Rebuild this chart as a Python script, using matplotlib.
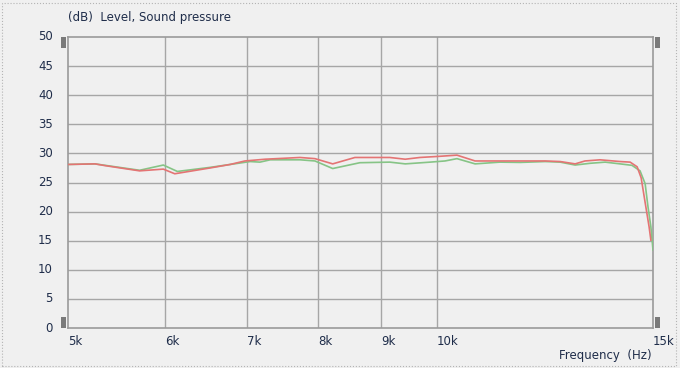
import numpy as np
import matplotlib.pyplot as plt
from matplotlib.patches import Rectangle
from matplotlib.ticker import FixedLocator, NullLocator

# Кривые (частота, Гц / уровень, дБ)
red_f = [5000, 5260, 5360, 5720, 5980, 6110, 6530, 6780, 6970, 7240, 7730, 7950,
         8220, 8570, 9150, 9420, 9680, 10050, 10380, 10740, 11250, 11690, 12250,
         12600, 12960, 13200, 13580, 14100, 14370, 14560, 14670, 14800, 14890, 14940]
red_db = [28.1, 28.2, 27.9, 27.0, 27.3, 26.5, 27.5, 28.1, 28.7, 29.0, 29.3, 29.1,
          28.2, 29.3, 29.3, 29.0, 29.3, 29.5, 29.7, 28.7, 28.7, 28.7, 28.7,
          28.6, 28.2, 28.7, 28.9, 28.6, 28.5, 27.7, 25.8, 20.8, 17.4, 15.1]

green_f = [5000, 5260, 5720, 5980, 6140, 6530, 6780, 7040, 7170, 7310, 7730, 7950,
           8220, 8650, 9150, 9420, 9870, 10150, 10380, 10740, 11250, 11690, 12250,
           12600, 12960, 13330, 13710, 14100, 14420, 14640, 14780, 14860, 14940, 15000]
green_db = [28.1, 28.2, 27.1, 28.0, 26.9, 27.6, 28.1, 28.6, 28.5, 28.9, 28.9, 28.7,
            27.4, 28.4, 28.5, 28.2, 28.5, 28.7, 29.1, 28.2, 28.5, 28.45, 28.6,
            28.5, 28.0, 28.3, 28.5, 28.2, 27.95, 27.0, 24.8, 20.8, 17.4, 13.4]

x_ticks = [5000, 6000, 7000, 8000, 9000, 10000, 15000]
x_labels = ['5k', '6k', '7k', '8k', '9k', '10k', '15k']
y_ticks = list(range(0, 51, 5))

bg = '#f0f0f0'
txt = '#1f2d4a'
grid = '#a6a6a6'

fig = plt.figure(figsize=(6.8, 3.68), dpi=100, facecolor=bg)
ax = fig.add_axes([68/680, 1 - 328/368, 585/680, 291/368])
ax.set_facecolor(bg)

ax.set_xscale('log')
ax.set_xlim(5000, 15000)
ax.set_ylim(0, 50)

ax.xaxis.set_major_locator(FixedLocator(x_ticks[1:-1]))
ax.xaxis.set_minor_locator(NullLocator())
ax.set_xticklabels([])
ax.set_yticks(y_ticks[1:-1])
ax.set_yticklabels([])
ax.tick_params(length=0)
ax.grid(True, color=grid, linewidth=1.0)
for s in ax.spines.values():
    s.set_color('#9a9a9a')
    s.set_linewidth(1.2)

ax.plot(green_f, green_db, color='#86c486', linewidth=1.2, zorder=3)
ax.plot(red_f, red_db, color='#e47474', linewidth=1.2, zorder=4)

# подписи осей
for v, lab in zip(x_ticks, x_labels):
    ax.text(v, -0.025, lab, ha='left', va='top', fontsize=8.5, color=txt,
            transform=ax.get_xaxis_transform(), clip_on=False)
for v in y_ticks:
    ax.text(-0.026, v, str(v), ha='right', va='center', fontsize=8.5, color=txt,
            transform=ax.get_yaxis_transform())

fig.text(68/680, 1 - 17/368, '(dB)  Level, Sound pressure', ha='left', va='center',
         fontsize=8.5, color=txt)
fig.text(652/680, 1 - 355/368, 'Frequency  (Hz)', ha='right', va='center',
         fontsize=8.5, color=txt)

# маркеры по углам
for (x0, y0) in [(61, 37), (61, 317), (655, 37), (655, 317)]:
    fig.patches.append(Rectangle((x0/680, 1 - (y0 + 11)/368), 5/680, 11/368,
                                 transform=fig.transFigure, facecolor='#7a7a7a',
                                 edgecolor='none'))

# рамка
fig.patches.append(Rectangle((2/680, 2/368), 674/680, 363/368, transform=fig.transFigure,
                             facecolor='none', edgecolor='#b4b4b4', linestyle=':',
                             linewidth=0.8))

fig.savefig('out.png', dpi=100, facecolor=bg)
